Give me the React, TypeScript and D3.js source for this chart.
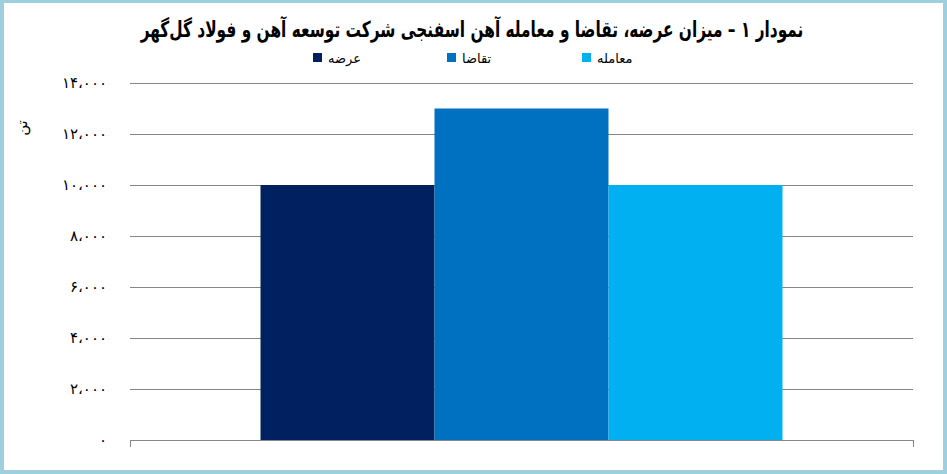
import { useEffect, useRef } from 'react';
import * as d3 from 'd3';

// values (tonnes)
const seriesNames = ['عرضه', 'تقاضا', 'معامله'];
const seriesValues = [10000, 13000, 10000];
const seriesColors = ['#002060', '#0070C0', '#00B0F0'];
const yTicks = [0, 2000, 4000, 6000, 8000, 10000, 12000, 14000];

const title = 'نمودار ۱ – میزان عرضه، تقاضا و معامله آهن اسفنجی شرکت توسعه آهن و فولاد گل‌گهر';
const yLabel = 'تن';

const toPersian = (v: number) =>
  d3.format(',')(v)
    .replace(/,/g, '،')
    .replace(/\d/g, d => '۰۱۲۳۴۵۶۷۸۹'[+d]);

export default function App() {
  const svgRef = useRef<SVGSVGElement>(null);

  useEffect(() => {
    if (!svgRef.current) return;
    const width = 947;
    const height = 474;
    const font = '"DejaVu Sans", sans-serif';

    const svg = d3.select(svgRef.current);
    svg.selectAll('*').remove();
    svg.attr('width', width).attr('height', height);

    // frame
    svg.append('rect').attr('width', width).attr('height', height).attr('fill', '#9DCFDF');
    svg.append('rect').attr('x', 4).attr('y', 3).attr('width', width - 8).attr('height', height - 7).attr('fill', '#fff');

    const left = 130;
    const right = 913;
    const y = d3.scaleLinear().domain([0, 14000]).range([440, 83]);
    const x = d3.scaleBand<string>().domain(['cat']).range([left, right]).paddingInner(0).paddingOuter(0.25);
    const xs = d3.scaleBand<string>().domain(seriesNames).range([0, x.bandwidth()]);

    // gridlines
    svg.append('g')
      .selectAll('line')
      .data(yTicks)
      .join('line')
      .attr('x1', left)
      .attr('x2', right)
      .attr('y1', d => Math.round(y(d)) + 0.5)
      .attr('y2', d => Math.round(y(d)) + 0.5)
      .attr('stroke', '#868686')
      .attr('stroke-width', 1);

    // x axis edge ticks
    svg.append('g')
      .selectAll('line')
      .data([left, right])
      .join('line')
      .attr('x1', d => d + 0.5)
      .attr('x2', d => d + 0.5)
      .attr('y1', y(0))
      .attr('y2', y(0) + 7)
      .attr('stroke', '#868686');

    // y tick labels
    svg.append('g')
      .selectAll('text')
      .data(yTicks)
      .join('text')
      .attr('x', 107)
      .attr('y', d => y(d))
      .attr('dy', '0.35em')
      .attr('text-anchor', 'end')
      .attr('font-family', font)
      .attr('font-size', 15)
      .attr('letter-spacing', 2.5)
      .attr('fill', '#000')
      .text(d => toPersian(d));

    // y axis label
    svg.append('text')
      .attr('transform', 'translate(22,128) rotate(-90)')
      .attr('text-anchor', 'middle')
      .attr('dy', '0.35em')
      .attr('font-family', font)
      .attr('font-size', 15)
      .text(yLabel);

    // bars
    svg.append('g')
      .selectAll('rect')
      .data(seriesValues)
      .join('rect')
      .attr('x', (d, i) => (x('cat') ?? 0) + (xs(seriesNames[i]) ?? 0))
      .attr('y', d => y(d))
      .attr('width', xs.bandwidth())
      .attr('height', d => y(0) - y(d))
      .attr('fill', (d, i) => seriesColors[i]);

    // title, squeezed horizontally to the reference width
    const titleText = svg.append('text')
      .attr('text-anchor', 'middle')
      .attr('dy', '0.35em')
      .attr('font-family', font)
      .attr('font-weight', 'bold')
      .attr('font-size', 22)
      .attr('direction', 'rtl')
      .text(title);
    const tw = (titleText.node() as SVGTextElement).getComputedTextLength() || 663;
    titleText.attr('transform', `translate(472,29) scale(${ 663 / tw },1)`);

    // legend
    const legendX = [313, 447, 582];
    const legend = svg.append('g')
      .selectAll('g')
      .data(seriesNames)
      .join('g')
      .attr('transform', (d, i) => `translate(${ legendX[i] },58)`);
    legend.append('rect')
      .attr('y', -5)
      .attr('width', 9)
      .attr('height', 9)
      .attr('fill', (d, i) => seriesColors[i]);
    legend.append('text')
      .attr('x', 15)
      .attr('dy', '0.35em')
      .attr('font-family', font)
      .attr('font-size', 13)
      .text(d => d);
  }, []);

  return (
    <svg ref={svgRef} style={{ position: 'absolute', left: 0, top: 0, display: 'block' }} />
  );
}
